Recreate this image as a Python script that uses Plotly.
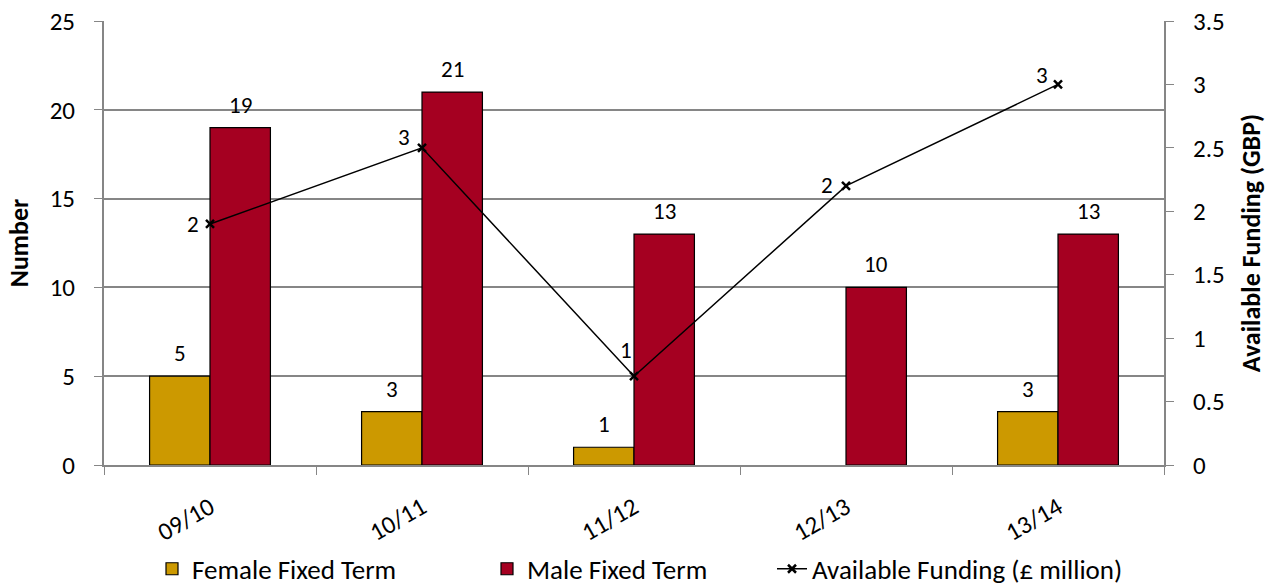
import plotly.graph_objects as go

# Academic years and staffing counts
years = ["09/10", "10/11", "11/12", "12/13", "13/14"]
female_fixed = [5, 3, 1, None, 3]
male_fixed = [19, 21, 13, 10, 13]
funding_million = [1.9, 2.5, 0.7, 2.2, 3.0]

# pixel nudges for the funding labels (placed left of / above each point)
funding_label_shift = [(-17, 0), (-18, 11), (-8, 26), (-19, 1), (-16, 9)]

FONT = "Carlito, Calibri, Lato, sans-serif"
GOLD = "#CC9900"
CRIMSON = "#A50021"
GRID = "#868686"

fig = go.Figure()

fig.add_trace(go.Bar(
    name="Female Fixed Term", x=years, y=female_fixed,
    marker=dict(color=GOLD, line=dict(color="black", width=1.2)),
    legend="legend",
))
fig.add_trace(go.Bar(
    name="Male Fixed Term", x=years, y=male_fixed,
    marker=dict(color=CRIMSON, line=dict(color="black", width=1.2)),
    legend="legend",
))
fig.add_trace(go.Scatter(
    name="Available Funding (£ million)", x=years, y=funding_million,
    yaxis="y2", mode="lines+markers",
    line=dict(color="black", width=1.5),
    marker=dict(symbol="x-thin", size=8, color="black",
                line=dict(color="black", width=2.5)),
    cliponaxis=False, legend="legend2",
))

# value labels above each bar
for i, yr in enumerate(years):
    for vals, shift in ((female_fixed, -30), (male_fixed, 30)):
        v = vals[i]
        if v is None:
            continue
        fig.add_annotation(
            x=yr, y=v, xref="x", yref="y", text=str(v), showarrow=False,
            xshift=shift, yshift=7, yanchor="bottom",
            font=dict(family=FONT, size=23, color="black"),
        )


def rounded(v):
    # round half away from zero, as spreadsheet labels do
    return str(int(v + 0.5))


# rounded funding labels next to the line markers
for yr, v, (dx, dy) in zip(years, funding_million, funding_label_shift):
    fig.add_annotation(
        x=yr, y=v, xref="x", yref="y2", text=rounded(v),
        showarrow=False, xshift=dx, yshift=dy,
        font=dict(family=FONT, size=23, color="black"),
    )

legend_common = dict(orientation="h", xref="container", yref="container",
                     y=0.027, yanchor="middle", xanchor="left",
                     font=dict(family=FONT, size=27), itemwidth=30,
                     bgcolor="rgba(0,0,0,0)")

fig.update_layout(
    width=1272, height=585,
    margin=dict(l=104, r=108, t=21, b=120),
    paper_bgcolor="white", plot_bgcolor="white",
    font=dict(family=FONT, size=25, color="black"),
    barmode="group", bargap=0.43, bargroupgap=0,
    showlegend=True,
    legend=dict(x=152 / 1272, entrywidth=290, **legend_common),
    legend2=dict(x=772 / 1272, **legend_common),
    xaxis=dict(
        type="category", tickson="boundaries", ticks="outside", ticklen=8,
        tickcolor=GRID, showline=True, linecolor=GRID, linewidth=2,
        tickangle=-30, showgrid=False, ticklabelstandoff=16,
        tickfont=dict(family=FONT, size=25), automargin=False,
    ),
    yaxis=dict(
        range=[0, 25], dtick=5, ticks="outside", ticklen=8, tickcolor=GRID,
        showline=True, linecolor=GRID, linewidth=2,
        showgrid=True, gridcolor=GRID, gridwidth=1.5, zeroline=False,
        ticklabelstandoff=14, tickfont=dict(family=FONT, size=25),
        automargin=False,
        title=dict(text="<b>Number</b>", standoff=14,
                   font=dict(family=FONT, size=26)),
    ),
    yaxis2=dict(
        range=[0, 3.5], dtick=0.5, overlaying="y", side="right",
        ticks="outside", ticklen=8, tickcolor=GRID,
        showline=True, linecolor=GRID, linewidth=2, showgrid=False,
        zeroline=False, ticklabelstandoff=14, automargin=False,
        tickfont=dict(family=FONT, size=25),
        title=dict(text="<b>Available Funding (GBP)</b>", standoff=18,
                   font=dict(family=FONT, size=26)),
    ),
)

fig.write_html("out.html")
